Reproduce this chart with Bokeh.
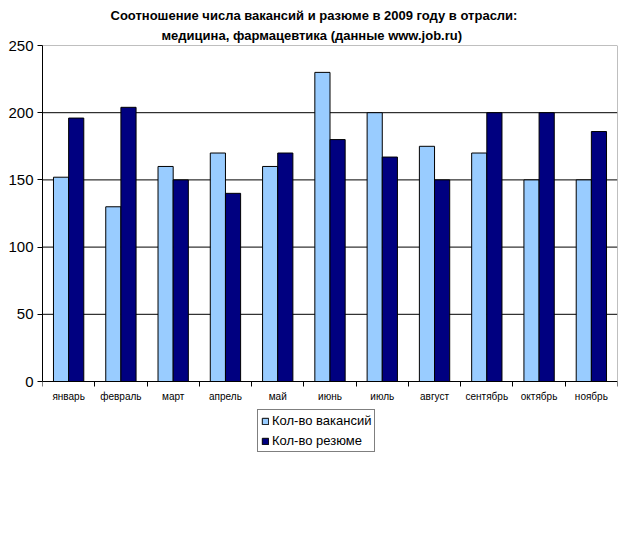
from bokeh.plotting import figure
from bokeh.models import (ColumnDataSource, Range1d, FixedTicker, LinearAxis,
                          Legend, LegendItem, Title)
from bokeh.embed import file_html
from bokeh.resources import INLINE

# Monthly figures for the medicine / pharmaceutics sector, 2009
months = ["январь", "февраль", "март", "апрель", "май", "июнь",
          "июль", "август", "сентябрь", "октябрь", "ноябрь"]
vacancies = [152, 130, 160, 170, 160, 230, 200, 175, 170, 150, 150]
resumes = [196, 204, 150, 140, 170, 180, 167, 150, 200, 200, 186]
y_ticks = [0, 50, 100, 150, 200, 250]

title_lines = ["Соотношение числа вакансий и разюме в 2009 году в отрасли:",
               "медицина, фармацевтика (данные www.job.ru)"]
series_names = ["Кол-во вакансий", "Кол-во резюме"]

LIGHT = "#99CCFF"
DARK = "#000080"
FONT = "Liberation Sans"
BAR_W = 0.29

TOP, BOTTOM_BORDER, HEIGHT = 45, 60, 557
PX_PER_UNIT = 336 / 250          # vertical scale of the value axis
frame_h = HEIGHT - TOP - BOTTOM_BORDER
y_max = y_ticks[-1]
y_min = y_max - frame_h / PX_PER_UNIT   # room under zero for labels and legend

n = len(months)
centers = [i + 0.5 for i in range(n)]
src = ColumnDataSource(dict(
    xv=[c - BAR_W / 2 for c in centers],
    xr=[c + BAR_W / 2 for c in centers],
    vac=vacancies,
    res=resumes,
))

p = figure(width=626, height=HEIGHT, output_backend="svg", toolbar_location=None,
           title=None,
           x_range=Range1d(0, n), y_range=Range1d(y_min, y_max),
           x_axis_type=None, y_axis_type=None,
           min_border_left=42, min_border_right=9,
           min_border_top=TOP, min_border_bottom=BOTTOM_BORDER)
p.background_fill_color = "white"
p.border_fill_color = "white"
p.outline_line_color = None

# horizontal gridlines and the grey plot-area border
p.segment(x0=[0] * 4, x1=[n] * 4, y0=y_ticks[1:5], y1=y_ticks[1:5],
          line_color="black", line_width=1, level="underlay")
p.segment(x0=[0, n], x1=[n, n], y0=[y_max, 0], y1=[y_max, y_max],
          line_color="#808080", line_width=1, level="underlay")

r_vac = p.vbar(x="xv", top="vac", width=BAR_W, source=src,
               fill_color=LIGHT, line_color="black", line_width=1)
r_res = p.vbar(x="xr", top="res", width=BAR_W, source=src,
               fill_color=DARK, line_color="black", line_width=1)

# value axis
yax = LinearAxis(ticker=FixedTicker(ticks=y_ticks), bounds=(0, y_max))
yax.axis_line_color = "black"
yax.major_tick_line_color = "black"
yax.major_tick_out = 5
yax.major_tick_in = 0
yax.minor_tick_line_color = None
yax.major_label_text_font = FONT
yax.major_label_text_font_size = "15px"
yax.major_label_text_color = "black"
yax.major_label_standoff = 4
p.add_layout(yax, "left")

# category axis at zero: tick marks between categories
xtick_ax = LinearAxis(ticker=FixedTicker(ticks=list(range(n + 1))),
                      fixed_location=0)
xtick_ax.axis_line_color = "black"
xtick_ax.major_tick_line_color = "black"
xtick_ax.major_tick_out = 5
xtick_ax.major_tick_in = 0
xtick_ax.minor_tick_line_color = None
xtick_ax.major_label_text_font_size = "0px"
xtick_ax.major_label_text_color = None
p.add_layout(xtick_ax, "below")

# category names centred under each group
xlab_ax = LinearAxis(ticker=FixedTicker(ticks=centers), fixed_location=0,
                     major_label_overrides={c: m for c, m in zip(centers, months)})
xlab_ax.axis_line_color = None
xlab_ax.major_tick_line_color = None
xlab_ax.minor_tick_line_color = None
xlab_ax.major_label_text_font = FONT
xlab_ax.major_label_text_font_size = "10px"
xlab_ax.major_label_text_color = "black"
xlab_ax.major_label_standoff = 3
p.add_layout(xlab_ax, "below")

# legend anchored by its lower-left corner, below the category labels
legend = Legend(items=[LegendItem(label=series_names[0], renderers=[r_vac]),
                       LegendItem(label=series_names[1], renderers=[r_res])],
                location=(215, frame_h - (452 - TOP)))
legend.border_line_color = "black"
legend.border_line_width = 1
legend.background_fill_color = "white"
legend.label_text_font = FONT
legend.label_text_font_size = "13px"
legend.label_text_color = "black"
legend.glyph_width = 8
legend.glyph_height = 8
legend.label_standoff = 3
legend.spacing = 5
legend.padding = 3
legend.margin = 0
legend.label_height = 14
p.add_layout(legend, "center")

# two-line bold heading above the plot area (outer line added last)
for line, off, so, lh in zip(reversed(title_lines), [119, 68], [6, 0], [0.7, 0.3]):
    p.add_layout(Title(text=line, align="left", offset=off,
                       text_font=FONT, text_font_size="13px",
                       text_font_style="bold", text_color="black",
                       text_line_height=lh, standoff=so), "above")

open("out.html", "w").write(file_html(p, INLINE))
